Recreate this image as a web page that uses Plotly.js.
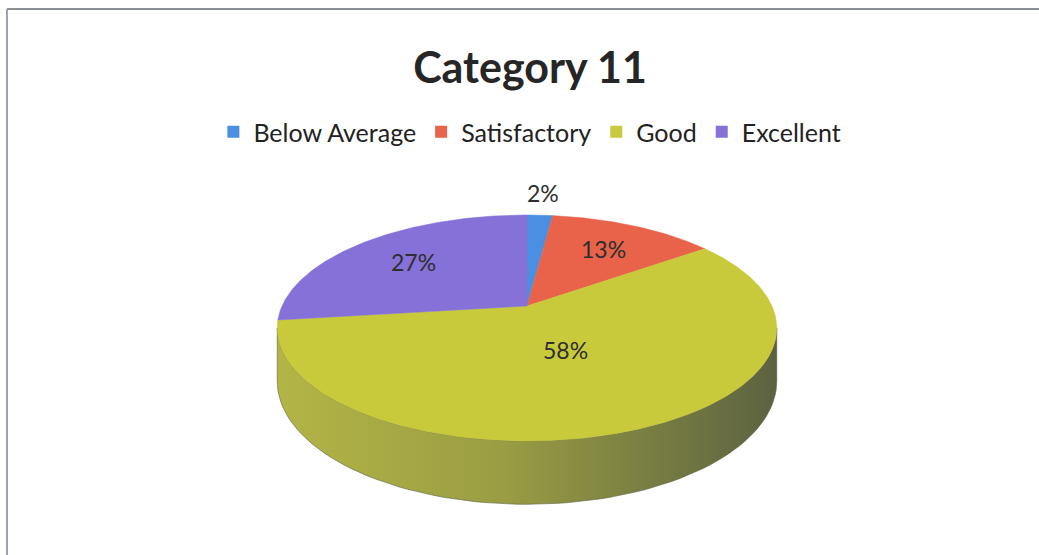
<!DOCTYPE html>
<html>
<head>
<meta charset="utf-8">
<script src="https://cdn.plot.ly/plotly-3.0.1.min.js"></script>
<style>html,body{margin:0;padding:0;background:#fff;}#chart{width:1039px;height:555px;}</style>
</head>
<body>
<div id="chart"></div>
<script>
// ---- data ----
const categories = ["Below Average", "Satisfactory", "Good", "Excellent"];
const percents = [2, 13, 58, 27];
const chartTitle = "Category 11";

// ---- style ----
const topColors = ["#4b8fe3", "#e8634a", "#c9c93c", "#8571d8"];
const sideColors = [
  [[0, "#3a6fb0"], [1, "#2c5385"]],
  [[0, "#b84e3a"], [1, "#8a3a2c"]],
  [[0, "#b3b546"], [0.45, "#9a9d43"], [1, "#5c6241"]],
  [[0, "#6a58ad"], [1, "#4f4182"]]
];
const labelRadius = [1.3, 0.68, 0.4, 0.67];

// geometry of the projected 3D disc (pixel space)
const W = 1039, H = 555;
const cx = 527, cy = 306, R = 245, R2 = 108.7, p = 0.1947, depth = 51;

function pt(thetaDeg, f) {
  const t = thetaDeg * Math.PI / 180;
  const den = 1 + p * f * Math.cos(t);
  return [cx + R * f * Math.sin(t) / den, cy - R2 * f * Math.cos(t) / den];
}
function arc(a0, a1, n) {
  const out = [];
  for (let i = 0; i <= n; i++) out.push(a0 + (a1 - a0) * i / n);
  return out;
}

const total = percents.reduce((a, b) => a + b, 0);
const starts = [], ends = [];
let acc = 0;
percents.forEach(v => { starts.push(acc / total * 360); acc += v; ends.push(acc / total * 360); });

const traces = [];
// side faces (visible front part only)
const thExt = Math.acos(-p) * 180 / Math.PI;
const visA = thExt, visB = 360 - thExt;
percents.forEach((v, i) => {
  const a = Math.max(starts[i], visA), b = Math.min(ends[i], visB);
  if (b <= a) return;
  const angs = arc(a, b, 80);
  const xs = [], ys = [];
  angs.forEach(th => { const q = pt(th, 1); xs.push(q[0]); ys.push(q[1]); });
  angs.slice().reverse().forEach(th => {
    const q = pt(th, 1);
    const t = th * Math.PI / 180;
    xs.push(q[0]); ys.push(q[1] + depth / (1 + p * Math.cos(t)));
  });
  xs.push(xs[0]); ys.push(ys[0]);
  traces.push({
    type: "scatter", x: xs, y: ys, mode: "lines", fill: "toself",
    line: {width: 0.6, color: sideColors[i][sideColors[i].length - 1][1]},
    fillgradient: {type: "horizontal", colorscale: sideColors[i]},
    hoverinfo: "skip", showlegend: false
  });
});
// top faces
percents.forEach((v, i) => {
  const angs = arc(starts[i], ends[i], Math.max(4, Math.ceil((ends[i] - starts[i]) * 2)));
  const xs = [cx], ys = [cy];
  angs.forEach(th => { const q = pt(th, 1); xs.push(q[0]); ys.push(q[1]); });
  xs.push(cx); ys.push(cy);
  traces.push({
    type: "scatter", x: xs, y: ys, mode: "lines", fill: "toself",
    fillcolor: topColors[i], line: {width: 0.5, color: topColors[i]},
    name: categories[i], hoverinfo: "name", showlegend: false
  });
});
// legend entries
categories.forEach((c, i) => {
  traces.push({
    type: "scatter", x: [null], y: [null], mode: "markers", name: c,
    marker: {symbol: "square", size: 12, color: topColors[i]}, showlegend: true
  });
});

// labels
const annotations = percents.map((v, i) => {
  const mid = (starts[i] + ends[i]) / 2;
  const q = pt(mid, labelRadius[i]);
  return {
    x: q[0], y: q[1], xref: "x", yref: "y", text: Math.round(v / total * 100) + "%",
    showarrow: false, font: {family: "Lato, 'Open Sans', sans-serif", size: 23, color: "#2e2e2e"},
    xanchor: "center", yanchor: "middle"
  };
});

const layout = {
  width: W, height: H,
  margin: {l: 0, r: 0, t: 0, b: 0},
  paper_bgcolor: "#ffffff", plot_bgcolor: "#ffffff",
  xaxis: {range: [0, W], visible: false, fixedrange: true},
  yaxis: {range: [H, 0], visible: false, fixedrange: true},
  title: {
    text: "<b>" + chartTitle + "</b>",
    font: {family: "Lato, 'Open Sans', sans-serif", size: 43, color: "#262626"},
    x: 530 / W, xanchor: "center", y: 1 - 68 / H, yanchor: "middle"
  },
  showlegend: true,
  legend: {
    orientation: "h", x: 0.51, xanchor: "center", y: 1 - 132 / H, yanchor: "middle",
    font: {family: "Lato, 'Open Sans', sans-serif", size: 25, color: "#222222"},
    itemwidth: 30, bgcolor: "rgba(0,0,0,0)"
  },
  annotations: annotations,
  shapes: [
    {type: "line", xref: "paper", yref: "paper", x0: 7 / W, x1: 1, y0: 1 - 9 / H, y1: 1 - 9 / H,
     line: {color: "#8a8f96", width: 2}},
    {type: "line", xref: "paper", yref: "paper", x0: 7 / W, x1: 7 / W, y0: 0, y1: 1 - 9 / H,
     line: {color: "#9aa3ad", width: 2}}
  ]
};

Plotly.newPlot("chart", traces, layout, {displayModeBar: false, staticPlot: true});
</script>
</body>
</html>
